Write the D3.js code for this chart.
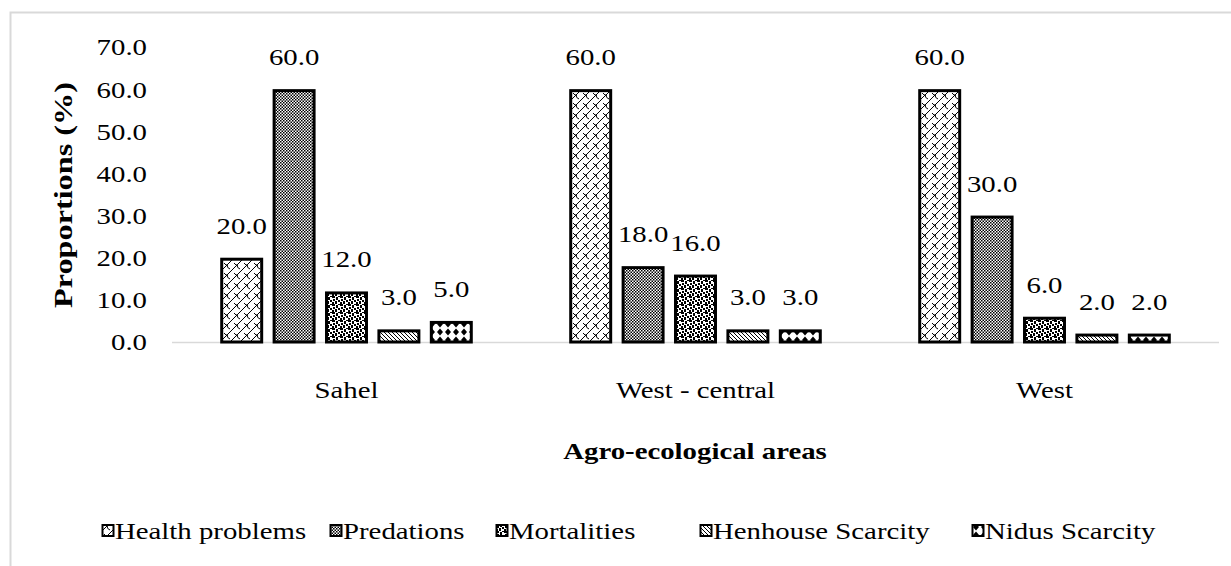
<!DOCTYPE html>
<html><head><meta charset="utf-8">
<script src="https://cdn.jsdelivr.net/npm/d3@7"></script>
<style>body{margin:0;background:#fff}text{font-family:"Liberation Serif","Times New Roman","DejaVu Serif",serif}</style>
</head><body>
<svg id="c" width="1231" height="566" font-family="Liberation Serif, Times New Roman, serif"></svg>
<script>
const categories = ["Sahel", "West - central", "West"];
const seriesNames = ["Health problems", "Predations", "Mortalities", "Henhouse Scarcity", "Nidus Scarcity"];
const healthProblems = [20.0, 60.0, 60.0];
const predations = [60.0, 18.0, 30.0];
const mortalities = [12.0, 16.0, 6.0];
const henhouseScarcity = [3.0, 3.0, 2.0];
const nidusScarcity = [5.0, 3.0, 2.0];
const yTicks = [0, 10, 20, 30, 40, 50, 60, 70];
const seriesValues = [healthProblems, predations, mortalities, henhouseScarcity, nidusScarcity];
const patternIds = ["pHealth", "pPred", "pMort", "pHen", "pNid"];

const STRETCH = 1.2;
const svg = d3.select("#c");
// place a text with horizontal stretch (the reference's glyphs are wide)
function stretchText(sel, x, y, rot, k) {
  const s = k || STRETCH;
  sel.attr("transform", (d, i) => {
    const xx = typeof x === "function" ? x(d, i) : x;
    const yy = typeof y === "function" ? y(d, i) : y;
    return `translate(${xx},${yy})` + (rot ? ` rotate(${rot})` : "") + ` scale(${s},1)`;
  });
  return sel;
}

// outer frame
svg.append("rect").attr("x", 10.5).attr("y", 12.5).attr("width", 1240).attr("height", 600)
  .attr("fill", "none").attr("stroke", "#d9d9d9").attr("stroke-width", 2);

const defs = svg.append("defs");
// Health: lattice
let p = defs.append("pattern").attr("id", "pHealth").attr("patternUnits", "userSpaceOnUse").attr("width", 10).attr("height", 10);
p.append("rect").attr("width", 10).attr("height", 10).attr("fill", "#fff");
p.append("path").attr("d", "M0,10 L10,0 M-2,2 L2,-2 M8,12 L12,8 M2,3 Q4,6 6,5 M5,5 Q5,8 8,9").attr("stroke", "#000").attr("stroke-width", 1).attr("fill", "none");
// Predations: fine checkerboard
p = defs.append("pattern").attr("id", "pPred").attr("patternUnits", "userSpaceOnUse").attr("width", 3).attr("height", 3);
p.append("rect").attr("width", 3).attr("height", 3).attr("fill", "#fff");
p.append("rect").attr("width", 1.5).attr("height", 1.5).attr("fill", "#000");
p.append("rect").attr("x", 1.5).attr("y", 1.5).attr("width", 1.5).attr("height", 1.5).attr("fill", "#000");
// Mortalities: blocky irregular
p = defs.append("pattern").attr("id", "pMort").attr("patternUnits", "userSpaceOnUse").attr("width", 8).attr("height", 8);
p.append("rect").attr("width", 8).attr("height", 8).attr("fill", "#fff");
[[0,0,3,2],[4,1,2,3],[1,3,2,2],[6,4,2,2],[3,5,2,3],[0,6,2,2],[6,0,2,1]].forEach(r =>
  p.append("rect").attr("x", r[0]).attr("y", r[1]).attr("width", r[2]).attr("height", r[3]).attr("fill", "#000"));
// Henhouse: dense diagonal lines
p = defs.append("pattern").attr("id", "pHen").attr("patternUnits", "userSpaceOnUse").attr("width", 4).attr("height", 4);
p.append("rect").attr("width", 4).attr("height", 4).attr("fill", "#fff");
p.append("path").attr("d", "M0,0 L4,4 M-1,3 L1,5 M3,-1 L5,1").attr("stroke", "#000").attr("stroke-width", 1);
// Nidus: diamonds
p = defs.append("pattern").attr("id", "pNid").attr("patternUnits", "userSpaceOnUse").attr("width", 8).attr("height", 8);
p.append("rect").attr("width", 8).attr("height", 8).attr("fill", "#fff");
p.append("path").attr("d", "M4,0.5 L7,4 L4,7.5 L1,4 Z").attr("fill", "#000");

const x0 = d3.scaleBand().domain(categories).range([172, 1219]);
const x1 = d3.scaleBand().domain(seriesNames).range([0, x0.bandwidth()]).paddingInner(0.18).paddingOuter(0.92);
const y = d3.scaleLinear().domain([0, 70]).range([342, 47]);

// y tick labels
stretchText(svg.append("g").selectAll("text").data(yTicks).join("text"), 147, d => y(d))
  .attr("dy", "0.35em").attr("text-anchor", "end")
  .attr("font-size", 24).attr("fill", "#000").text(d => d.toFixed(1));

// baseline
svg.append("line").attr("x1", 172).attr("x2", 1219).attr("y1", y(0) + 0.5).attr("y2", y(0) + 0.5)
  .attr("stroke", "#d9d9d9").attr("stroke-width", 1.5);

const groups = svg.append("g").selectAll("g").data(categories).join("g")
  .attr("transform", c => `translate(${x0(c)},0)`);
const rows = (c, ci) => seriesNames.map((s, si) => ({s, si, v: seriesValues[si][ci]}));

groups.selectAll("rect").data(rows).join("rect")
  .attr("x", d => x1(d.s) + 1.5).attr("width", x1.bandwidth() - 3)
  .attr("y", d => y(d.v) + 1.5).attr("height", d => y(0) - y(d.v) - 1.5)
  .attr("fill", d => `url(#${patternIds[d.si]})`).attr("stroke", "#000").attr("stroke-width", 3);

stretchText(groups.selectAll("text").data(rows).join("text"),
    d => x1(d.s) + x1.bandwidth() / 2, d => y(d.v) - 24)
  .attr("text-anchor", "middle").attr("font-size", 24).attr("fill", "#000").text(d => d.v.toFixed(1));

// category labels
stretchText(svg.append("g").selectAll("text").data(categories).join("text"),
    c => x0(c) + x0.bandwidth() / 2, 398)
  .attr("text-anchor", "middle").attr("font-size", 24).text(c => c);

// axis titles
stretchText(svg.append("text"), 695, 459)
  .attr("text-anchor", "middle").attr("font-size", 24).attr("font-weight", "bold").text("Agro-ecological areas");
stretchText(svg.append("text"), 72, 195, -90, 1.24)
  .attr("text-anchor", "middle").attr("font-size", 26).attr("font-weight", "bold").text("Proportions (%)");

// legend
const legendX = [102, 330, 496, 700, 972];
const lg = svg.append("g").selectAll("g").data(seriesNames).join("g")
  .attr("transform", (d, i) => `translate(${legendX[i]},531)`);
lg.append("rect").attr("x", 0.5).attr("y", -6).attr("width", 11).attr("height", 11)
  .attr("fill", (d, i) => `url(#${patternIds[i]})`).attr("stroke", "#000").attr("stroke-width", 2);
stretchText(lg.append("text"), 13, 0).attr("dy", "0.35em").attr("font-size", 24).text(d => d);
</script>
</body></html>
